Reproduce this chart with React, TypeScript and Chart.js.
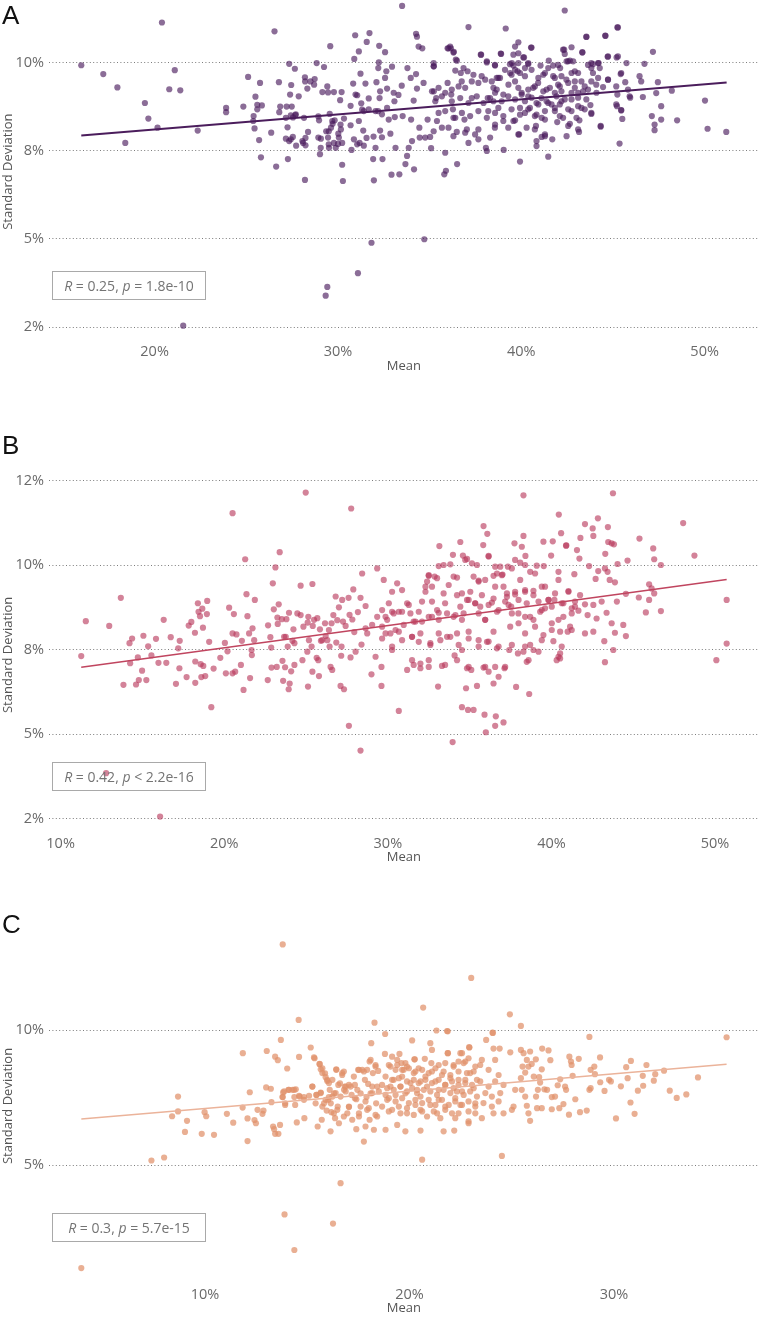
import React, { useEffect, useRef } from "react";
import { Chart, registerables } from "chart.js";

Chart.register(...registerables);

// ---------------- Panel A data (Mean %, Standard Deviation %) ----------------
const A_POINTS: [number, number][] = [
  [16.0,9.92],[17.2,9.67],[17.97,9.29],[18.4,7.72],[19.47,8.85],[19.66,8.41],[20.16,8.15],[20.4,11.13],[20.8,9.24],[21.1,9.78],[21.4,9.21],[21.56,2.54],[22.35,8.07],[23.9,8.71],[23.9,8.59],[24.84,8.75],[25.1,9.59],[25.4,8.48],[25.45,8.13],[25.5,9.03],[25.6,8.8],[25.6,8.67],[25.7,7.8],[25.75,9.42],[25.8,7.31],[25.85,8.78],[26.36,8.01],[26.54,10.88],[26.63,7.05],[26.78,9.44],[26.8,8.59],[26.85,8.75],[27.2,8.75],[27.25,8.16],[27.27,7.26],[27.34,9.96],[27.39,9.09],[27.43,8.5],[27.45,9.36],[27.48,8.75],[27.54,7.89],[27.55,8.44],[27.65,9.82],[27.68,8.51],[27.72,7.64],[27.86,9.04],[27.16,7.84],[27.34,7.77],[28.2,6.67],[28.2,9.58],[28.21,9.46],[28.23,7.86],[28.23,7.65],[28.37,8.03],[28.1,7.72],[28.5,9.46],[28.7,9.37],[28.73,9.53],[28.84,9.98],[28.93,8.47],[28.97,8.36],[29.02,7.4],[29.06,7.58],[29.07,7.84],[29.15,9.16],[29.24,9.87],[29.33,3.39],[29.42,3.64],[29.46,9.15],[29.46,7.87],[29.5,8.05],[29.5,7.68],[29.55,8.54],[29.58,10.46],[29.62,8.15],[29.71,8.26],[29.78,9.16],[29.82,8.36],[29.88,7.58],[30.0,7.69],[30.05,7.87],[30.12,8.93],[30.14,8.24],[30.16,8.1],[30.2,9.16],[30.23,7.1],[30.27,6.64],[30.33,8.41],[30.69,8.77],[30.74,7.52],[30.83,9.4],[30.89,10.1],[30.94,10.77],[30.96,9.09],[31.05,9.07],[31.09,4.03],[31.14,10.31],[31.18,7.72],[31.23,9.68],[31.27,8.84],[31.32,8.66],[31.38,8.07],[31.41,7.64],[31.5,9.4],[31.56,7.86],[31.57,10.58],[31.72,10.83],[31.68,8.98],[31.83,4.89],[31.96,6.66],[31.94,7.9],[32.05,8.62],
  [29.42,9.32],[27.16,8.43],[27.7,8.53],[28.15,8.43],[29.69,8.34],[30.69,8.22],[31.14,8.34],[31.41,8.62],[31.68,8.67],[28.93,7.87],[29.36,8.05],[30.02,7.98],[30.23,7.72],[30.87,7.82],[31.05,7.68],[29.78,7.72],[29.51,7.58],[28.06,7.77],[27.43,7.82],[25.38,8.34],[28.33,9.26],[32.05,7.58],[31.92,7.26],
  [32.25,10.47],[32.23,10.0],[32.2,9.84],[32.1,9.44],[32.3,9.18],[32.27,8.99],[32.19,8.62],[32.4,8.53],[32.3,8.07],[32.4,7.88],[32.43,7.26],[32.57,10.29],[32.57,9.56],[32.64,9.75],[32.68,9.26],[32.68,8.71],[32.77,8.38],[32.86,7.98],[32.92,6.82],[32.95,9.88],[33.04,9.14],[33.08,8.9],[33.1,8.45],[33.14,7.58],[33.35,6.83],[33.3,9.08],[33.48,9.34],[33.5,11.6],[33.53,8.48],[33.68,7.12],[33.77,7.35],[33.79,9.84],[33.86,7.58],[33.97,9.56],[33.99,8.38],[34.04,7.77],[34.13,8.92],[34.15,6.97],[34.26,10.81],[34.31,10.73],[34.26,9.67],[34.31,9.26],[34.4,10.45],[34.6,10.4],[34.44,8.15],[34.46,7.87],[34.67,9.42],[34.76,7.87],[34.89,8.38],[35.03,7.89],[35.08,7.57],[35.22,9.98],[35.23,9.18],[35.23,9.89],[35.36,8.99],[35.49,8.57],[35.67,8.15],[35.8,6.83],[35.89,6.93],[35.98,10.4],[36.12,10.45],[36.32,10.3],[36.43,10.08],[35.98,9.42],[36.18,9.09],[36.27,8.67],[36.4,8.43],[36.48,8.03],[36.5,7.12],[36.3,7.91],[35.85,7.44],[36.9,8.38],[36.75,9.46],[36.85,9.84],[37.12,11.0],[37.03,8.1],[37.12,7.72],[37.3,8.99],[37.48,7.96],[37.66,7.82],[37.79,10.22],[37.84,9.61],[38.07,7.58],[38.12,10.03],[38.17,8.99],[38.2,8.62],[38.3,7.87],[38.56,9.93],[38.66,9.56],[38.48,9.28],[38.56,8.15],[38.12,7.49],[34.71,4.99],
  [39.15,10.96],[39.66,10.45],[39.84,10.57],[40.53,10.42],[39.57,10.22],[38.88,10.25],[40.15,10.14],[39.48,9.98],[39.57,9.91],[39.84,9.98],[40.38,9.95],[41.05,9.91],[41.5,10.05],[41.74,9.91],[42.12,9.84],[42.34,10.36],[42.37,10.24],[42.37,11.47],[42.74,10.43],[42.47,10.03],[42.65,10.05],[43.33,10.28],[43.55,10.72],[43.1,9.7],[43.64,9.93],[43.82,9.98],[44.19,9.98],[44.28,9.84],[43.91,9.7],[44.19,9.56],[44.71,10.16],[44.59,10.75],[45.24,10.99],[45.2,10.14],[45.42,9.67],[45.74,9.98],[45.67,9.44],[44.73,9.51],[44.46,9.3],[45.18,9.32],[45.82,9.23],[45.91,9.04],[45.94,9.0],[45.24,9.09],[46.72,9.96],[47.18,10.3],[46.45,9.61],[46.54,9.46],[47.45,9.44],[47.36,9.13],[46.63,9.02],[48.21,9.2],[47.63,8.76],[47.12,8.48],[47.63,8.38],[47.27,8.24],[47.27,8.08],[48.5,8.36],[50.02,8.92],[50.16,8.12],[51.18,8.03],[45.22,8.76],[45.45,8.65],[45.51,8.4],[45.36,7.7],[44.33,8.18],[43.82,8.54],[43.77,8.79],[43.17,8.36],[43.15,8.03],[43.1,8.1],[42.65,8.26],[42.56,8.2],[42.47,7.91],[41.96,8.31],[41.69,7.82],[41.47,7.33],[41.29,7.91],[41.11,7.89],[40.83,7.77],[40.83,7.63],[40.8,8.2],[40.29,8.15],[39.93,7.19],[39.88,7.96],[39.57,8.34],[39.66,8.36],[39.04,7.52],
  [39.3,9.37],[39.66,9.46],[39.84,9.28],[40.02,9.09],[40.2,8.9],[40.38,9.23],[40.56,9.0],[40.74,9.32],[40.93,8.81],[41.2,9.18],[41.38,8.9],[41.56,9.28],[41.65,8.81],[41.92,9.04],[42.01,9.37],[42.1,8.81],[42.19,9.18],[42.37,8.95],[42.56,9.42],[42.74,9.14],[42.92,9.28],[43.1,9.0],[43.28,9.46],[43.37,9.18],[43.55,8.95],[43.64,9.23],[44.1,9.14],[40.2,9.61],[40.56,9.79],[40.93,9.56],[41.29,9.7],[41.83,9.56],[42.19,9.61],[42.74,9.7],[42.92,9.46],[39.93,8.71],[40.2,8.57],[40.47,8.71],[40.74,8.48],[41.11,8.43],[41.29,8.62],[41.83,8.71],[42.1,8.48],[42.74,8.62],[43.46,8.67],[43.1,8.76],[39.02,8.34],[38.75,8.71],[39.02,9.09],[38.84,9.56],[38.66,9.23],[38.48,8.9],[39.66,9.79],[39.39,9.7],[39.93,9.7]
];
const A_POINTS_CORE: [number, number][] = [
  [36.03,10.4],[36.16,10.4],[36.3,10.28],[36.49,10.05],[35.22,9.89],[36.4,9.77],[36.7,9.7],[37.07,9.75],[37.39,9.65],[37.81,10.22],[38.12,10.0],[38.57,9.91],[38.9,10.24],[39.38,9.95],[39.84,10.26],[40.11,10.14],[40.38,9.98],[40.56,10.42],[40.2,9.84],[39.8,9.75],[39.47,9.65],[39.11,9.79],[38.75,9.56],[38.39,9.46],[38.03,9.51],[37.66,9.42],[37.3,9.46],[36.94,9.28],[36.58,9.32],[36.21,9.23],[35.85,9.14],[35.49,9.28],[35.13,9.18],[35.31,8.9],[35.67,9.04],[36.21,8.9],[36.67,8.99],[37.12,8.85],[37.57,9.04],[37.94,8.85],[38.3,8.99],[38.57,9.14],[38.93,8.9],[39.29,9.04],[39.66,8.95],[40.02,9.14],[40.38,9.04],[40.65,9.28],[40.92,9.42],[41.2,9.65],[41.47,9.84],[41.74,9.61],[42.01,9.93],[42.28,10.36],[42.55,10.03],[42.83,10.03],[42.92,9.75],[42.46,9.51],[42.1,9.32],[41.83,9.14],[41.38,9.23],[41.1,8.99],[40.83,8.85],[41.47,8.85],[42.19,8.9],[42.74,8.95],[43.1,9.14],[43.46,9.32],[43.82,9.46],[44.09,9.37],[43.82,9.84],[43.55,10.73],[43.33,10.29],[43.91,9.95],[44.22,9.98],[44.58,10.76],[44.73,10.17],[45.27,10.99],[45.27,10.17],[45.45,9.7],[44.73,9.51],[45.18,8.81],[45.45,8.64],[44.33,8.2],[43.82,8.57],[43.28,8.71],[43.01,8.43],[42.56,8.67],[42.28,8.43],[41.83,8.62],[41.29,8.38],[40.83,8.52],[40.38,8.67],[39.93,8.52],[39.47,8.67],[39.02,8.48],[38.57,8.57],[38.12,8.43],[37.66,8.62],[37.21,8.48],[36.76,8.57],[36.3,8.43],[35.85,8.62],[35.4,8.34],[35.22,8.05],[36.03,8.15],[36.94,8.01],[37.66,8.1],[38.57,8.24],[39.29,8.15],[39.84,7.96],[40.74,8.1],[41.29,7.96]
];
const A_FIT: [number, number][] = [[16.0, 7.93], [51.2, 9.43]];
const A_X_TICKS = [20, 30, 40, 50];
const A_Y_TICKS = [2.5, 5, 7.5, 10];
const A_Y_LABELS = ["2%", "5%", "8%", "10%"];
const A_STAT = { r: "0.25", op: "=", p: "1.8e-10" };

// ---------------- Panel B data ----------------
const B_POINTS: [number, number][] = [
  [11.26,7.31],[11.54,8.34],[12.97,8.2],[13.68,9.03],[13.84,6.46],[14.21,7.69],[14.25,7.1],[14.37,7.83],[14.61,6.47],[14.72,7.27],[14.78,6.6],[14.98,6.88],[15.06,7.91],[15.24,6.6],[15.35,7.6],[15.55,7.33],[15.83,7.82],[15.98,7.11],[12.78,3.85],[16.08,2.57],[16.3,8.38],[16.46,7.11],[16.73,7.87],[17.05,6.49],[17.19,7.54],[17.26,6.95],[17.28,7.76],[17.7,6.69],[17.83,8.21],[17.99,8.32],[18.21,8.0],[18.23,7.15],[18.23,6.52],[18.39,8.87],[18.43,8.62],[18.52,8.49],[18.56,7.07],[18.6,6.69],[18.66,8.71],[18.7,8.15],[18.72,7.02],[18.84,6.72],[18.94,8.55],[18.96,8.94],[19.08,7.73],[19.21,5.8],[19.35,6.94],[19.76,7.26],[20.04,7.7],[20.1,6.8],[20.2,7.45],[20.3,8.74],[20.51,11.53],[20.51,7.98],[20.51,6.8],[20.59,8.55],[20.67,6.85],[20.75,7.95],[21.02,7.05],[21.08,7.76],[21.18,6.31],[21.28,10.17],[21.36,9.14],[21.42,8.49],[21.52,7.98],[21.58,6.66],[21.67,7.49],[21.69,7.34],[21.73,8.13],[21.83,7.78],[21.87,8.97],[22.66,6.6],[22.68,8.22],[22.82,7.87],[22.87,7.56],[22.89,6.97],[22.97,9.46],[23.03,8.69],[23.13,9.93],[23.21,6.99],[23.25,8.45],[23.27,8.26],[23.33,8.84],[23.39,10.38],[23.52,8.4],[23.56,7.17],[23.6,6.58],[23.66,7.88],[23.72,6.98],[23.76,7.88],[23.8,8.4],[23.88,7.59],[23.94,6.33],[23.96,8.59],[24.0,6.5],[24.09,6.86],[24.17,7.76],[24.23,8.1],[24.29,7.05],[24.29,7.69],[24.47,8.57],[24.67,9.39],[24.67,8.52],[24.78,7.19],[24.84,8.18],[24.98,12.14],[25.08,7.44],[25.1,8.3],[25.12,6.41],[25.14,8.47],[25.18,7.78],[25.34,7.59],[25.39,9.44],[25.39,6.85],[25.41,8.2],[25.49,8.38],[25.65,7.26],[25.69,8.43],[25.75,7.19],[25.79,6.72],[25.85,8.1],[25.91,7.76],[25.99,7.78],[26.16,8.28],[26.2,7.9],[26.3,7.78],[26.4,8.08],[26.44,7.59],[26.5,6.99],[26.56,8.28],[26.6,6.9],[26.67,8.52],[26.81,9.07],[26.85,7.71],[26.91,8.37],[27.01,8.75],[27.11,6.43],[27.15,7.32],[27.17,7.59],[27.21,8.97],[27.26,8.33],[27.32,6.33],[27.42,8.2],[27.6,9.03],[27.62,5.25],[27.66,8.53],[27.72,7.27],[27.76,11.67],[27.83,8.39],[27.89,9.28],[27.95,8.02],[28.03,7.44],[28.17,8.61],[28.33,9.03],[28.33,4.52],[28.39,7.65],[28.43,9.75],[28.64,8.79],[28.64,8.13],[28.74,7.98],[29.0,6.77],[29.04,8.23],[29.25,7.29],[29.35,9.9],[29.35,8.47],
  [29.61,6.43],[29.75,9.56],[30.67,5.69],[33.15,10.56],[34.43,10.68],[33.98,10.3],[34.53,5.8],[34.9,5.72],[35.24,5.72],[35.91,5.58],[35.99,5.06],[36.56,5.25],[36.6,5.53],[37.07,5.35],[33.96,4.77],[35.85,11.15],[36.08,10.92],[35.83,10.59],[36.16,10.27],[37.74,10.64],[38.29,10.86],[38.29,12.06],[40.45,11.49],[40.59,10.94],[39.51,10.69],[40.08,10.7],[40.89,10.57],[41.56,10.44],[41.77,10.8],[42.05,11.21],[42.52,11.08],[42.56,10.86],[42.84,11.38],[43.45,11.12],[43.76,12.12],[43.47,10.68],[43.68,10.64],[43.82,10.61],[45.38,10.78],[46.22,10.49],[46.28,10.17],[46.69,10.0],[48.05,11.24],[48.74,10.28],[44.65,10.13],[44.04,10.03],[45.97,9.43],[46.12,9.31],[46.28,9.16],[45.34,9.04],[45.97,8.97],[45.77,8.6],[46.69,8.64],[50.71,8.97],[50.71,7.68],[50.08,7.19],[44.55,9.15],[44.0,8.92],[43.88,9.49],[43.56,9.56],[43.43,9.8],[43.27,9.9],[43.29,10.33],[42.86,9.82],[42.7,9.59],[42.3,9.97],[41.71,10.19],[41.4,9.73],[40.91,10.58],[40.43,9.8],[39.98,10.28],[39.53,9.97],[39.1,9.98],[38.7,9.8],[38.39,10.0],[38.41,10.27],[38.09,10.07],[37.78,10.15],[37.58,9.9],[37.34,9.95],[37.01,9.72],[36.87,9.95],[36.56,9.95],[36.16,10.25],[35.45,10.0],[35.14,10.05],[34.73,10.15],[33.82,10.02],[33.41,10.0],[33.11,9.97],[32.86,9.66],[32.5,9.68],[32.3,9.36],[34.23,9.63],[34.53,9.16],[35.24,9.66],[35.55,9.54],[35.95,9.56],[36.46,9.68],[37.28,9.16],[37.78,9.13],[38.39,9.21],[38.9,9.24],[39.41,9.36],[39.82,8.97],[40.18,8.97],[40.63,8.87],[41.04,9.23],[41.44,8.77],[41.75,9.11],[42.05,8.84],[42.56,8.82],[43.07,8.92],[43.37,8.59],[42.76,8.42],[42.21,8.52],[41.65,8.65],[41.24,8.57],[40.73,8.47],[40.43,8.38],[40.02,8.08],[39.61,8.72],[39.31,8.62],[38.9,8.38],[38.39,8.47],[37.98,8.57],[37.54,8.77],[37.17,8.92],[36.67,8.62],[36.36,8.89],[35.95,8.38],[35.65,8.77],[35.34,8.87],[34.94,8.97],[34.63,8.57],[34.13,8.52],[33.62,8.57],[33.11,8.59],[32.7,8.47],[32.09,8.33],[31.69,8.33],[31.28,8.82],[30.87,8.62],[30.26,8.62],[29.86,8.47],[29.65,8.18],[30.16,7.98],[30.67,8.03],[31.48,7.88],[31.89,7.73],[32.6,7.69],[33.11,7.98],[33.62,7.88],[34.23,7.98],[34.94,8.03],[35.55,7.78],[36.06,7.73],[36.46,8.03],[36.77,7.59],[37.42,7.49],[37.95,7.39],[38.39,7.59],[38.9,7.49],[39.21,7.44],[38.6,7.19],[38.64,6.19],[37.84,6.4],[37.13,6.95],[36.77,6.7],[36.46,6.5],[36.16,6.85],[35.85,6.97],[35.45,6.43],[35.1,6.9],[34.84,6.95],[34.78,6.36],[34.08,7.33],[34.53,7.49],[33.31,7.02],[33.07,6.41],[32.5,7.19],[31.99,6.95],[31.58,7.05],[31.18,6.9],[30.26,7.49],[29.61,6.99],[40.12,7.75],[40.53,7.24],[40.32,7.19],[40.99,8.03],[41.24,8.08],[42.05,7.98],[42.56,8.03],[43.23,7.75],[43.27,7.13],[43.78,7.49],[43.68,8.28],[43.88,8.0],[44.39,8.23],[44.55,7.9]
];
const B_POINTS_CORE: [number, number][] = [
  [34.59,10.28],[34.84,10.18],[38.19,10.54],[30.57,9.46],[30.26,9.21],[30.87,9.26],[31.18,8.87],[30.06,8.87],[29.65,8.67],[29.96,8.38],[30.36,8.57],[30.67,8.62],[31.38,8.57],[31.89,8.62],[31.58,8.33],[30.97,8.23],[30.47,8.08],[29.86,7.98],[29.65,7.83],[30.26,7.59],[30.87,7.78],[31.48,7.88],[31.99,7.98],[32.6,7.64],[33.21,7.78],[33.82,7.88],[34.33,7.64],[34.94,7.83],[35.55,7.59],[36.16,7.74],[36.67,7.54],[32.5,9.7],[32.4,9.51],[32.7,9.36],[33.01,9.61],[32.3,9.21],[32.09,8.92],[32.7,8.92],[33.01,8.67],[32.5,8.47],[33.11,8.38],[33.41,9.16],[33.5,8.87],[33.72,9.41],[34.02,9.66],[34.23,9.11],[34.43,8.77],[34.02,8.47],[34.53,8.38],[34.84,8.97],[35.04,9.21],[35.34,8.87],[35.55,9.51],[35.75,9.11],[35.55,8.57],[35.95,8.38],[36.16,8.82],[36.46,9.01],[36.56,9.36],[36.67,9.75],[36.97,9.7],[37.07,9.36],[36.77,8.67],[37.28,9.06],[37.38,8.82],[37.58,8.57],[37.78,9.21],[37.99,8.97],[38.09,9.56],[38.39,9.26],[38.49,8.87],[38.7,8.47],[38.9,9.11],[39.0,9.75],[39.21,8.92],[39.41,8.67],[39.61,9.36],[39.82,8.97],[40.02,8.77],[40.22,9.16],[40.43,9.56],[40.73,8.87],[41.04,9.21],[41.24,8.72],[41.44,8.92],[37.48,8.18],[37.99,8.28],[38.39,7.98],[39.0,8.18],[39.51,7.93],[40.02,8.28],[40.53,8.03],[41.14,8.18],[37.58,7.64],[38.29,7.44],[38.7,7.64],[39.41,7.78],[40.63,7.59],[31.48,7.19],[31.99,7.09],[32.5,6.99],[33.5,7.05],[34.23,7.19],[34.94,6.99],[35.95,6.99],[36.56,6.99],[37.17,6.99],[38.49,7.14],[40.43,7.29],[40.53,7.39]
];
const B_FIT: [number, number][] = [[11.26, 6.98], [50.71, 9.57]];
const B_X_TICKS = [10, 20, 30, 40, 50];
const B_Y_TICKS = [2.5, 5, 7.5, 10, 12.5];
const B_Y_LABELS = ["2%", "5%", "8%", "10%", "12%"];
const B_STAT = { r: "0.42", op: "<", p: "2.2e-16" };

// ---------------- Panel C data ----------------
const C_POINTS: [number, number][] = [
  [3.95,1.18],[7.38,5.17],[8.0,5.28],[8.39,6.81],[8.68,7.54],[8.68,6.99],[9.02,6.23],[9.12,6.64],[9.84,6.16],[9.98,6.96],[10.06,6.81],[10.44,6.12],[11.07,6.9],[11.38,6.57],[11.84,7.13],[11.85,9.15],[12.08,6.73],[12.08,5.89],[12.19,7.7],[12.42,6.67],[12.49,6.55],[12.57,7.05],[12.81,6.9],[12.86,7.02],[12.99,7.88],[13.02,9.23],[13.22,7.83],[13.25,7.33],[13.33,6.43],[13.38,6.33],[13.43,9.02],[13.43,6.16],[13.56,8.89],[13.59,6.16],[13.67,6.49],[13.71,9.64],[13.8,13.18],[13.8,7.52],[13.82,7.7],[13.89,3.17],[13.92,7.23],[14.02,8.58],[14.08,7.79],[14.28,7.79],[14.37,1.85],[14.37,7.52],[14.41,7.23],[14.44,7.81],[14.49,6.58],[14.58,10.38],[14.6,9.01],[14.63,7.54],[14.84,7.42],[14.86,6.74],[15.09,7.57],[15.17,9.36],[15.25,7.91],[15.36,8.96],[15.41,7.29],[15.45,7.6],[15.51,6.43],[15.61,8.74],[15.66,7.67],[15.71,6.68],[15.74,8.59],[15.82,7.29],[15.87,8.4],[15.95,7.02],[15.98,8.16],[16.03,7.42],[16.1,7.79],[16.14,6.25],[16.18,6.96],[16.23,7.54],[16.26,2.83],[16.3,6.92],[16.36,6.74],[16.39,7.67],[16.42,8.55],[16.49,7.17],[16.55,6.55],[16.6,8.03],[16.63,4.33],[16.71,8.41],[16.8,7.79],[16.88,7.91],[16.96,6.92],[17.04,7.17],[17.12,7.91],[17.2,6.68],[17.28,8.28],[17.33,7.48],[17.4,6.33],[17.45,7.79],[17.49,8.53],[17.53,6.8],[17.61,7.17],[17.69,8.53],[17.77,5.87],[17.82,8.16],[17.85,6.43],[17.9,7.52],[17.98,8.01],[18.01,7.11],[18.05,6.68],[18.1,8.9],[18.13,9.52],[18.18,7.67],[18.21,8.41],[18.29,10.28],[18.34,8.65],[18.37,7.29],[18.42,6.8],[18.42,7.91],
  [20.67,10.84],[18.81,9.86],[20.13,9.62],[21.32,9.99],[21.87,9.96],[21.02,9.52],[21.1,9.27],[21.87,9.15],[22.57,9.15],[22.93,9.36],[22.89,8.96],[22.65,8.78],[23.75,9.64],[24.06,9.91],[24.11,9.32],[24.41,9.32],[24.19,8.9],[23.54,8.9],[23.46,8.71],[18.8,9.12],[19.15,9.02],[19.51,9.12],[19.4,8.9],[19.8,8.78],[20.24,8.92],[20.75,8.94],[21.07,8.78],[21.43,8.71],[21.75,8.78],[22.16,8.65],[22.4,8.84],[19.07,8.65],[19.32,8.53],[19.64,8.53],[19.97,8.59],[20.29,8.47],[20.62,8.53],[20.94,8.41],[21.27,8.59],[21.67,8.47],[22.0,8.34],[22.4,8.47],[22.81,8.41],[23.14,8.47],[23.87,8.53],[24.36,8.34],[18.83,8.28],[19.15,8.16],[19.48,8.22],[19.88,8.1],[20.21,8.16],[20.45,8.04],[20.78,8.16],[21.1,8.04],[21.43,8.16],[21.75,7.97],[22.08,8.1],[22.4,7.97],[22.73,8.16],[23.06,7.97],[23.46,8.1],[23.87,7.91],[24.19,8.1],[24.6,7.97],[18.91,7.85],[19.23,7.79],[19.56,7.91],[19.88,7.73],[20.13,7.85],[20.37,7.67],[20.7,7.79],[21.02,7.73],[21.35,7.6],[21.67,7.79],[22.0,7.67],[22.32,7.73],[22.65,7.6],[22.97,7.73],[23.3,7.54],[23.71,7.67],[24.03,7.54],[24.44,7.67],[18.99,7.48],[19.32,7.36],[19.64,7.48],[19.97,7.3],[20.29,7.42],[20.62,7.3],[20.94,7.42],[21.27,7.23],[21.59,7.42],[21.92,7.23],[22.24,7.36],[22.57,7.23],[22.89,7.36],[23.22,7.17],[23.62,7.3],[24.03,7.17],[24.36,7.36],[19.15,7.05],[19.56,6.92],[19.88,7.11],[20.21,6.86],[20.54,7.05],[20.86,6.8],[21.19,6.99],[21.51,6.74],[21.75,7.05],[22.24,6.74],[22.4,6.92],[22.89,6.62],[23.22,6.92],[23.54,6.74],[24.11,6.92],[18.83,6.31],[19.4,6.49],[19.8,6.25],[20.54,6.28],[21.67,6.25],[22.19,6.28],[22.89,6.55],[18.26,6.31],
  [23.02,11.94],[24.91,10.59],[25.45,10.16],[24.08,9.9],[28.8,9.75],[35.51,9.74],[24.93,9.18],[25.45,9.27],[25.9,9.21],[26.18,8.92],[26.49,9.32],[26.8,9.25],[26.89,8.89],[27.82,9.02],[27.9,8.84],[27.93,8.71],[28.28,8.94],[29.04,8.65],[29.32,8.99],[28.86,8.53],[29.07,8.37],[29.33,8.07],[29.76,8.16],[29.85,8.1],[30.1,6.73],[30.34,7.92],[30.6,8.63],[30.67,8.22],[30.83,8.86],[30.81,7.32],[31.01,6.9],[31.17,7.76],[31.41,8.31],[31.43,7.94],[31.59,8.71],[31.95,8.13],[32.02,8.37],[32.45,8.5],[32.73,7.76],[33.07,7.49],[33.54,7.62],[34.11,8.25],[28.8,7.79],[28.86,7.85],[29.54,7.75],[28.67,7.02],[28.34,6.96],[27.8,6.87],[28.11,7.44],[27.98,8.31],[27.66,7.79],[27.61,7.91],[27.37,8.18],[27.25,7.96],[27.12,7.54],[26.96,7.52],[27.53,7.26],[27.33,7.11],[26.96,7.07],[26.47,7.11],[26.24,7.11],[25.9,6.64],[25.82,6.92],[25.74,7.2],[26.28,7.79],[26.39,8.06],[26.34,8.26],[26.6,7.81],[26.73,7.79],[26.19,7.54],[26.08,8.28],[26.47,8.55],[25.66,8.43],[25.53,8.65],[25.82,8.65],[25.98,8.75],[25.74,8.9],[25.58,9.15],[25.45,8.22],[25.49,7.79],[25.66,7.54],[25.17,7.79],[25.09,7.17],[25.01,7.05],[24.6,6.92],[24.52,5.34],[20.62,5.2]
];
const C_POINTS_CORE: [number, number][] = [
  [15.33,8.99],[15.6,8.75],[15.66,8.55],[15.74,8.41],[15.9,8.26],[15.98,8.12],[16.06,8.04],[16.23,8.16],[16.42,8.53],[16.79,8.47],[16.71,8.34],[16.52,7.97],[16.84,7.91],[17.04,7.97],[17.33,7.97],[17.53,8.53],[17.77,8.47],[17.93,8.53],[18.05,8.84],[18.34,8.71],[18.47,8.49],[18.99,8.71],[19.4,8.71],[19.61,8.78],[19.72,8.53],[19.88,8.65],[20.26,8.92],[20.45,8.59],[21.84,9.97],[21.88,9.15],[22.49,9.15],[22.92,9.37],[22.16,8.71],[22.73,8.84],[23.22,8.65],[13.87,7.73],[14.11,7.79],[14.36,7.79],[14.6,7.57],[14.84,7.52],[13.92,7.29],[13.79,7.52],[15.25,7.91],[15.45,7.6],[15.66,7.69],[15.9,7.42],[16.06,7.52],[16.31,7.66],[16.63,7.54],[16.88,7.73],[17.17,7.6],[17.4,7.44],[17.61,7.66],[17.85,7.36],[18.1,7.66],[18.18,7.91],[18.5,7.73],[18.66,7.97],[18.83,7.6],[19.07,7.91],[19.23,8.16],[19.32,7.6],[19.56,7.91],[19.64,8.28],[19.8,7.66],[20.05,8.04],[20.21,8.41],[20.37,7.79],[20.54,8.1],[20.78,8.28],[20.86,7.91],[21.1,8.47],[21.27,8.1],[21.43,7.79],[21.59,8.34],[21.75,7.97],[22.0,8.22],[22.16,7.85],[22.4,8.16],[22.57,7.73],[22.73,8.04],[22.97,8.41],[23.14,7.85],[23.3,8.16],[15.74,7.17],[16.15,7.29],[16.47,7.05],[17.04,7.15],[17.53,6.92],[17.93,7.05],[18.34,6.86],[18.66,7.17],[18.99,6.99],[19.48,7.17],[19.88,6.92],[20.29,7.23],[20.62,6.99],[21.02,7.23],[21.35,6.92],[21.75,7.17],[22.08,6.92],[22.49,7.23],[22.89,6.99],[23.22,7.29],[16.79,6.8],[18.91,7.42],[20.54,7.54],[21.43,7.42],[22.24,7.48]
];
const C_FIT: [number, number][] = [[3.95, 6.71], [35.51, 8.74]];
const C_X_TICKS = [10, 20, 30];
const C_Y_TICKS = [5, 10];
const C_Y_LABELS = ["5%", "10%"];
const C_STAT = { r: "0.3", op: "=", p: "5.7e-15" };

const FONT = "'Open Sans', 'Noto Sans', sans-serif";

type PanelCfg = {
  letter: string;
  points: [number, number][];
  fit: [number, number][];
  xTicks: number[];
  yTicks: number[];
  yLabels: string[];
  stat: { r: string; op: string; p: string };
  xMin: number; xMax: number; yMin: number; yMax: number;
  pointColor: string; lineColor: string; lineWidth: number;
  top: number; height: number; padTop: number; xAxisH: number;
  statTop: number; letterTop: number;
};

const PANELS: PanelCfg[] = [
  {
    letter: "A", points: A_POINTS.concat(A_POINTS_CORE), fit: A_FIT, xTicks: A_X_TICKS, yTicks: A_Y_TICKS, yLabels: A_Y_LABELS, stat: A_STAT,
    xMin: 14.24, xMax: 52.96, yMin: 2.09, yMax: 11.72,
    pointColor: "rgba(74,26,92,0.64)", lineColor: "#4b1d5c", lineWidth: 2,
    top: -12, height: 388, padTop: 12, xAxisH: 34.4, statTop: 271, letterTop: 1.5,
  },
  {
    letter: "B", points: B_POINTS.concat(B_POINTS_CORE), fit: B_FIT, xTicks: B_X_TICKS, yTicks: B_Y_TICKS, yLabels: B_Y_LABELS, stat: B_STAT,
    xMin: 9.29, xMax: 52.68, yMin: 2.09, yMax: 12.6,
    pointColor: "rgba(184,55,90,0.62)", lineColor: "#c0455f", lineWidth: 1.6,
    top: 430, height: 437, padTop: 47, xAxisH: 34.2, statTop: 762, letterTop: 431.5,
  },
  {
    letter: "C", points: C_POINTS.concat(C_POINTS_CORE), fit: C_FIT, xTicks: C_X_TICKS, yTicks: C_Y_TICKS, yLabels: C_Y_LABELS, stat: C_STAT,
    xMin: 2.37, xMax: 37.09, yMin: 0.59, yMax: 13.79,
    pointColor: "rgba(224,144,106,0.72)", lineColor: "#ebb39a", lineWidth: 1.6,
    top: 880, height: 438, padTop: 48, xAxisH: 34, statTop: 1213, letterTop: 911,
  },
];

function Panel({ cfg }: { cfg: PanelCfg }) {
  const ref = useRef<HTMLCanvasElement>(null);
  useEffect(() => {
    const canvas = ref.current;
    if (!canvas) return;
    const chart = new Chart(canvas, {
      type: "scatter",
      data: {
        datasets: [
          {
            type: "line",
            data: cfg.fit.map(([x, y]) => ({ x, y })),
            borderColor: cfg.lineColor,
            borderWidth: cfg.lineWidth,
            pointRadius: 0,
            fill: false,
            tension: 0,
          } as any,
          {
            type: "scatter",
            data: cfg.points.map(([x, y]) => ({ x, y })),
            backgroundColor: cfg.pointColor,
            borderWidth: 0,
            pointRadius: 3.1,
            pointHoverRadius: 3.1,
          } as any,
        ],
      },
      options: {
        animation: false,
        responsive: false,
        maintainAspectRatio: false,
        events: [],
        layout: { padding: { top: cfg.padTop, right: 1, left: 0, bottom: 0 } },
        plugins: { legend: { display: false }, tooltip: { enabled: false } },
        scales: {
          x: {
            type: "linear",
            min: cfg.xMin,
            max: cfg.xMax,
            afterBuildTicks: (s: any) => { s.ticks = cfg.xTicks.map((v) => ({ value: v })); },
            afterFit: (s: any) => { s.height = cfg.xAxisH; },
            grid: { display: false, drawTicks: false },
            border: { display: false },
            ticks: {
              callback: (v: any) => `${v}%`,
              color: "#6a6a6a",
              font: { family: FONT, size: 14.5 },
              padding: 2,
              autoSkip: false,
              maxRotation: 0,
            },
            title: {
              display: true,
              text: "Mean",
              color: "#555",
              font: { family: FONT, size: 13 },
              padding: { top: 0, bottom: 2 },
            },
          },
          y: {
            type: "linear",
            min: cfg.yMin,
            max: cfg.yMax,
            afterBuildTicks: (s: any) => { s.ticks = cfg.yTicks.map((v) => ({ value: v })); },
            afterFit: (s: any) => { s.width = 49; },
            grid: { color: "#7c7c7c", lineWidth: 1, drawTicks: false },
            border: { display: false, dash: [1, 2.4] },
            ticks: {
              callback: (v: any) => {
                const i = cfg.yTicks.indexOf(Number(v));
                return i >= 0 ? cfg.yLabels[i] : "";
              },
              color: "#6a6a6a",
              font: { family: FONT, size: 14.5 },
              padding: 5,
              autoSkip: false,
            },
            title: {
              display: true,
              text: "Standard Deviation",
              color: "#555",
              font: { family: FONT, size: 13 },
              padding: { top: 0, bottom: 0 },
            },
          },
        },
      } as any,
    });
    return () => chart.destroy();
  }, [cfg]);

  return (
    <>
      <canvas
        ref={ref}
        width={762}
        height={cfg.height}
        style={{ position: "absolute", left: 0, top: cfg.top, width: 762, height: cfg.height, display: "block" }}
      />
      <div
        style={{
          position: "absolute", left: 52, top: cfg.statTop, width: 154, height: 29, boxSizing: "border-box",
          border: "1px solid #a9a9a9", background: "transparent", color: "#747474",
          fontFamily: FONT, fontSize: 14, lineHeight: "27px", textAlign: "center", whiteSpace: "nowrap",
        }}
      >
        <i>R</i> = {cfg.stat.r}, <i>p</i> {cfg.stat.op} {cfg.stat.p}
      </div>
      <div
        style={{
          position: "absolute", left: 2, top: cfg.letterTop, fontFamily: "'Liberation Sans', Arial, sans-serif",
          fontSize: 26, lineHeight: "26px", color: "#111",
        }}
      >
        {cfg.letter}
      </div>
    </>
  );
}

export default function App() {
  return (
    <div style={{ position: "absolute", left: 0, top: 0, width: 762, height: 1319, background: "#fff", overflow: "hidden" }}>
      {PANELS.map((p) => (
        <Panel key={p.letter} cfg={p} />
      ))}
    </div>
  );
}
